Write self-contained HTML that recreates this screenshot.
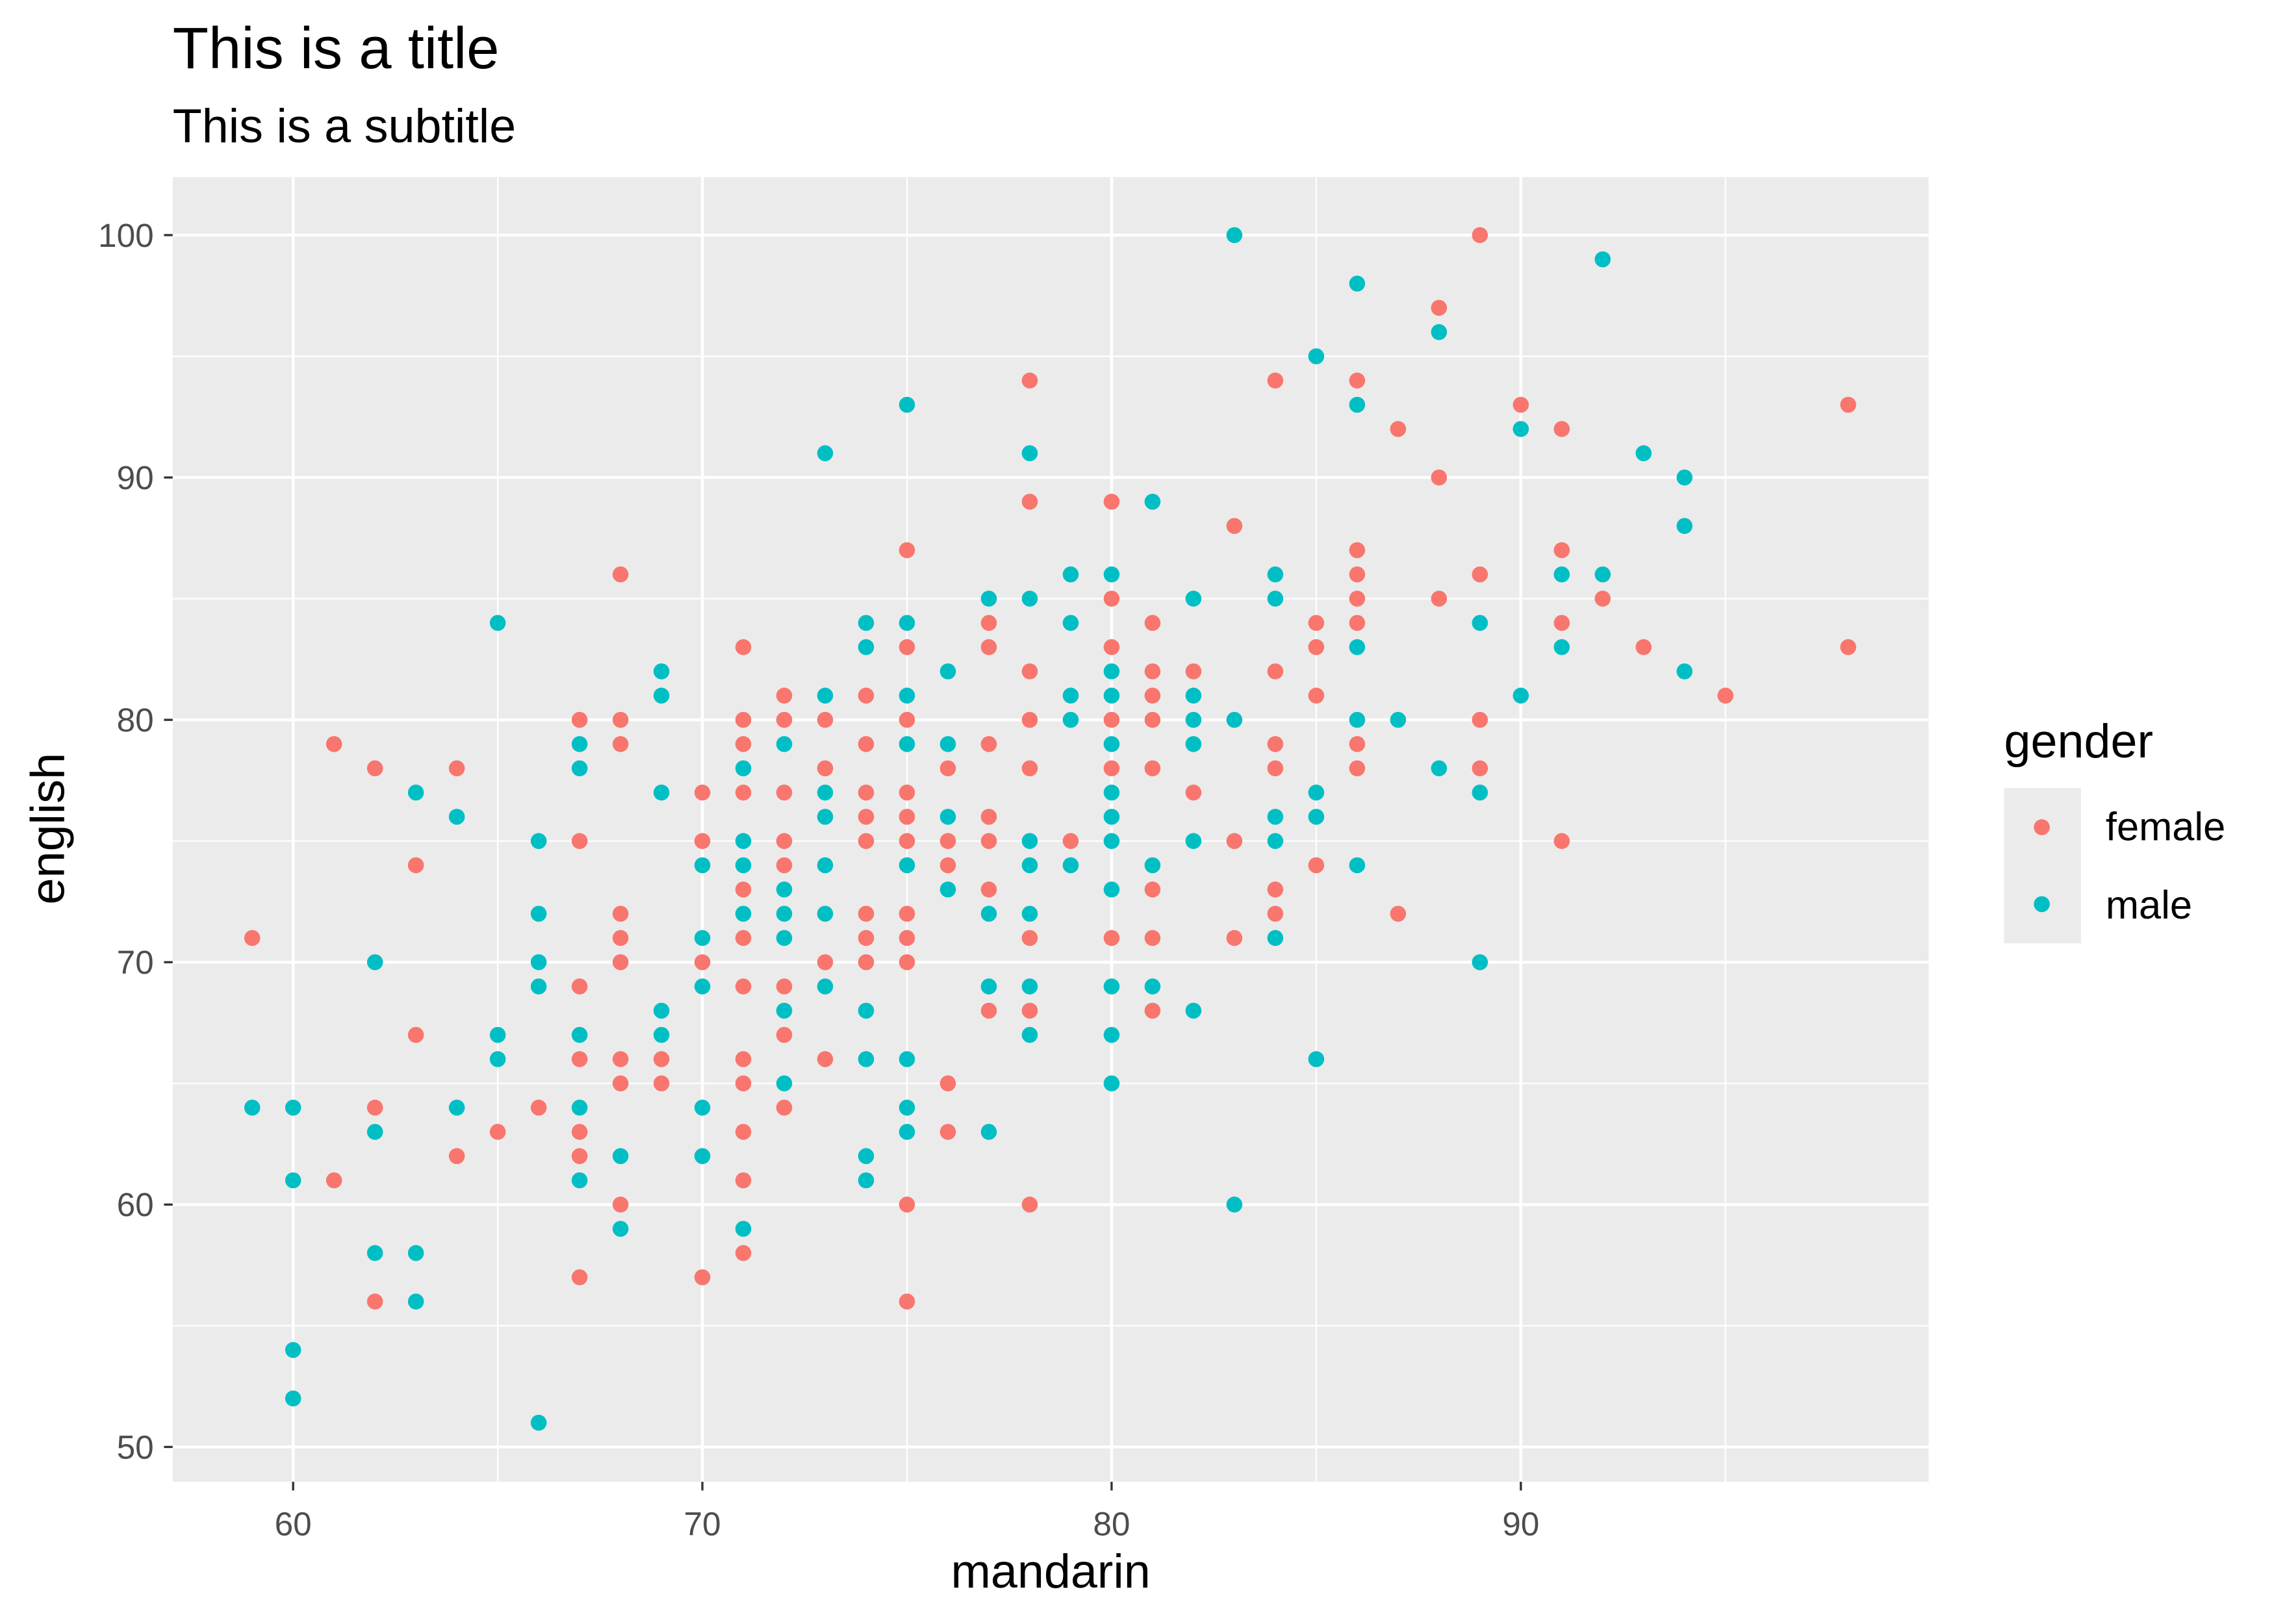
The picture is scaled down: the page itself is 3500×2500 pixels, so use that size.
<!DOCTYPE html>
<html><head><meta charset="utf-8">
<style>html,body{margin:0;padding:0;background:#fff;width:3500px;height:2500px;overflow:hidden;}svg{display:block;font-family:"Liberation Sans",Arial,sans-serif;}</style>
</head><body>
<svg id="s" xmlns="http://www.w3.org/2000/svg" width="3500" height="2500" viewBox="0 0 1567 1119" preserveAspectRatio="none">
<rect x="0" y="0" width="1567" height="1119" fill="#fff"/>
<rect x="119" y="122" width="1210" height="899" fill="#EBEBEB"/>
<g id="grid"></g>
<g id="pts"></g>
<g fill="#4D4D4D" font-size="23" text-anchor="end">
<text x="106" y="170">100</text><text x="106" y="337">90</text><text x="106" y="504">80</text>
<text x="106" y="671">70</text><text x="106" y="838">60</text><text x="106" y="1005">50</text>
</g>
<g fill="#4D4D4D" font-size="23" text-anchor="middle">
<text x="202" y="1058">60</text><text x="484" y="1058">70</text><text x="766" y="1058">80</text><text x="1048" y="1058">90</text>
</g>
<g stroke="#333" stroke-width="1.5">
<line x1="113" x2="119" y1="162" y2="162"/><line x1="113" x2="119" y1="329" y2="329"/><line x1="113" x2="119" y1="496" y2="496"/>
<line x1="113" x2="119" y1="663" y2="663"/><line x1="113" x2="119" y1="830" y2="830"/><line x1="113" x2="119" y1="997" y2="997"/>
<line y1="1021" y2="1027" x1="202" x2="202"/><line y1="1021" y2="1027" x1="484" x2="484"/><line y1="1021" y2="1027" x1="766" x2="766"/><line y1="1021" y2="1027" x1="1048" x2="1048"/>
</g>
<text x="724" y="1094" font-size="33" text-anchor="middle" fill="#000">mandarin</text>
<text transform="translate(44,571) rotate(-90)" font-size="33" text-anchor="middle" fill="#000">english</text>
<text x="119" y="47" font-size="40.5" fill="#000">This is a title</text>
<text x="119" y="98" font-size="33" fill="#000">This is a subtitle</text>
<text x="1381" y="522" font-size="33" fill="#000">gender</text>
<rect x="1381" y="543" width="53" height="107" fill="#EBEBEB"/>
<circle cx="1407" cy="570" r="5.5" fill="#F8766D"/>
<circle cx="1407" cy="623" r="5.5" fill="#00BFC4"/>
<text x="1451" y="579" font-size="27.5" fill="#000">female</text>
<text x="1451" y="633" font-size="27.5" fill="#000">male</text>
</svg>
<script>
function X(v){return 202+(v-60)*28.2;}
function Y(v){return 997-(v-50)*16.7;}
var g=document.getElementById("grid"),h="";
for(var v=55;v<=95;v+=10)h+='<line x1="119" x2="1329" y1="'+Y(v)+'" y2="'+Y(v)+'" stroke="#fff" stroke-width="1"/>';
for(var v=65;v<=95;v+=10)h+='<line y1="122" y2="1021" x1="'+X(v)+'" x2="'+X(v)+'" stroke="#fff" stroke-width="1"/>';
for(var v=50;v<=100;v+=10)h+='<line x1="119" x2="1329" y1="'+Y(v)+'" y2="'+Y(v)+'" stroke="#fff" stroke-width="2"/>';
for(var v=60;v<=90;v+=10)h+='<line y1="122" y2="1021" x1="'+X(v)+'" x2="'+X(v)+'" stroke="#fff" stroke-width="2"/>';
g.innerHTML=h;
var D={
59:"f71 m64",60:"m64 m61 m54 m52",61:"f79 f61",62:"f78 m70 f64 m63 m58 f56",63:"m77 f74 f67 m58 m56",
64:"f78 m76 m64 f62",65:"m84 m67 m66 f63",66:"m75 m72 m70 m69 f64 m51",
67:"f80 m79 m78 f75 f69 m67 f66 m64 f63 f62 m61 f57",
68:"f86 f80 f79 f72 f71 f70 f66 f65 m62 f60 m59",69:"m82 m81 m77 m68 m67 f66 f65",
70:"f77 f75 m74 m71 f70 m69 m64 m62 f57",
71:"f83 f80 f79 m78 f77 m75 m74 f73 m72 f71 f69 f66 f65 f63 f61 m59 f58",
72:"f81 f80 m79 f77 f75 f74 m73 m72 m71 f69 m68 f67 m65 f64",
73:"m91 m81 f80 f78 m77 m76 m74 m72 f70 m69 f66",
74:"m84 m83 f81 f79 f77 f76 f75 f72 f71 f70 m68 m66 m62 m61",
75:"m93 f87 m84 f83 m81 f80 m79 f77 f76 f75 m74 f72 f71 f70 m66 m64 m63 f60 f56",
76:"m82 m79 f78 m76 f75 f74 m73 f65 f63",
77:"m85 f84 f83 f79 f76 f75 f73 m72 m69 f68 m63",
78:"f94 m91 f89 m85 f82 f80 f78 m75 m74 m72 f71 m69 f68 m67 f60",
79:"m86 m84 m81 m80 f75 m74",
80:"f89 m86 f85 f83 m82 m81 f80 m79 f78 m77 m76 m75 m73 f71 m69 m67 m65",
81:"m89 f84 f82 f81 f80 f78 m74 f73 f71 m69 f68",
82:"m85 f82 m81 m80 m79 f77 m75 m68",83:"m100 f88 m80 f75 f71 m60",
84:"f94 m86 m85 f82 f79 f78 m76 m75 f73 f72 m71",85:"m95 f84 f83 f81 m77 m76 f74 m66",
86:"m98 f94 m93 f87 f86 f85 f84 m83 m80 f79 f78 m74",87:"f92 m80 f72",88:"f97 m96 f90 f85 m78",
89:"f100 f86 m84 f80 f78 m77 m70",90:"f93 m92 m81",91:"f92 f87 m86 f84 m83 f75",92:"m99 m86 f85",
93:"m91 f83",94:"m90 m88 m82",95:"f81",98:"f93 f83"};
var p="";
for(var k in D){D[k].split(" ").forEach(function(t){var c=t[0]=="f"?"#F8766D":"#00BFC4";p+='<circle cx="'+X(+k)+'" cy="'+Y(+t.slice(1))+'" r="5.5" fill="'+c+'"/>';});}
document.getElementById("pts").innerHTML=p;
</script>
</body></html>
